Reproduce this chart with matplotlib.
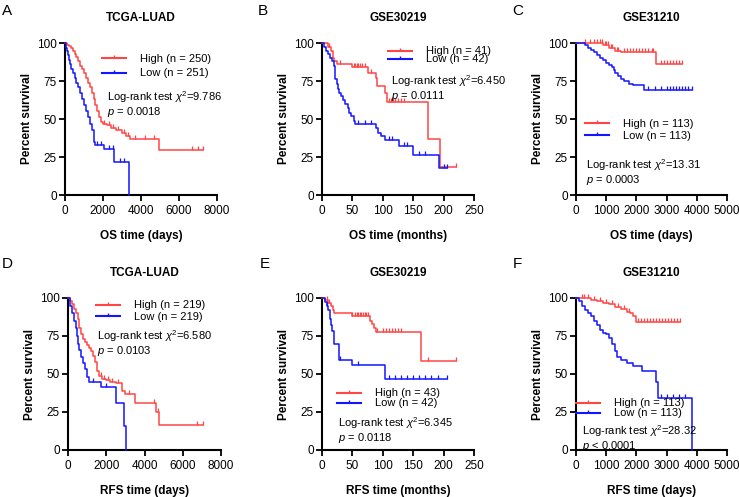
import numpy as np
import matplotlib
matplotlib.use('Agg')
import matplotlib.pyplot as plt
from matplotlib.lines import Line2D

plt.rcParams['font.family'] = 'Liberation Sans'
plt.rcParams['mathtext.fontset'] = 'custom'
plt.rcParams['mathtext.rm'] = 'Liberation Sans'
plt.rcParams['mathtext.it'] = 'Liberation Sans:italic'

red = '#FF4545'
blue = '#1414FF'

# ---- data: step times / survival (%), end of follow-up, censor times ----
# A: TCGA-LUAD OS (days)
a_hi_t = [0, 100, 200, 300, 400, 500, 600, 700, 800, 900, 1000, 1100, 1200, 1300, 1400,
          1500, 1600, 1700, 1800, 1900, 2000, 2200, 2400, 2700, 3000, 3200, 3400, 4950]
a_hi_s = [100, 99, 98, 97, 95, 93, 91, 88, 85, 83, 80, 77, 74, 71, 67,
          63, 59, 55, 51, 48, 47, 46, 44, 43, 41, 39, 37, 29.5]
a_hi_end = 7250
a_hi_cens = [2050, 2300, 2550, 2800, 3100, 3300, 3700, 4200, 4700, 6700, 7000, 7250]
a_lo_t = [0, 50, 100, 150, 200, 250, 300, 400, 500, 600, 700, 800, 900, 1000, 1100,
          1200, 1300, 1400, 1500, 1550, 1600, 2050, 2600, 3350]
a_lo_s = [100, 97, 95, 92, 89, 86, 83, 80, 77, 74, 71, 67, 63, 59, 55,
          51, 47, 43, 38, 35, 33, 30.5, 21.5, 0]
a_lo_end = 3350
a_lo_cens = [1700, 1900, 2300, 2500, 2900, 3100]

# B: GSE30219 OS (months)
b_hi_t = [0, 10, 15, 18, 20, 25, 49, 75, 88, 90, 103, 107, 175, 194]
b_hi_s = [100, 97.5, 95, 90, 88, 86.5, 84, 80, 77, 71.5, 67, 61, 37, 18.5]
b_hi_end = 221
b_hi_cens = [12, 30, 52, 55, 58, 60, 63, 66, 70, 80, 110, 113, 116, 120, 125, 130, 135, 221]
b_lo_t = [0, 3, 7, 10, 13, 17, 20, 21, 22, 24, 26, 28, 31, 35, 38, 42, 45, 48, 52, 55,
          88, 92, 97, 103, 127, 150, 192]
b_lo_s = [100, 97.5, 95, 92.7, 90, 88, 85, 80, 76, 73, 70, 67, 65, 62.5, 60, 57, 54, 52, 49, 46.5,
          44, 41, 38.5, 36, 32, 26.5, 17.5]
b_lo_end = 205
b_lo_cens = [60, 70, 80, 110, 115, 135, 140, 160, 170, 200, 205]

# C: GSE31210 OS (days)
c_hi_t = [0, 900, 1100, 1300, 1500, 2650]
c_hi_s = [100, 99, 97, 95, 94, 86]
c_hi_end = 3500
c_hi_cens = [300, 450, 600, 700, 800, 850, 950, 1000, 1050, 1150, 1200, 1350, 1400, 1600,
             1700, 1800, 1900, 2000, 2100, 2200, 2300, 2400, 2500, 2550, 2800, 2900, 3000,
             3100, 3200, 3300, 3400, 3500]
c_lo_t = [0, 300, 400, 500, 600, 700, 800, 900, 1000, 1100, 1200, 1250, 1300, 1400, 1500,
          1600, 1750, 1900, 2250]
c_lo_s = [100, 98.5, 97, 95.5, 94, 92, 90, 88.5, 87, 85.5, 84, 82, 80, 78, 76.5,
          75, 73, 72.5, 69]
c_lo_end = 3850
c_lo_cens = [2400, 2600, 2800, 3000, 3100, 3200, 3300, 3400, 3500, 3600, 3700, 3850]

# D: TCGA-LUAD RFS (days)
d_hi_t = [0, 100, 200, 300, 400, 500, 600, 700, 800, 900, 1000, 1100, 1200, 1300, 1400,
          1500, 1600, 1800, 2000, 2200, 2500, 2800, 3000, 3500, 4600, 4780]
d_hi_s = [100, 98, 96, 93, 90, 86, 80, 76, 73, 71, 69, 67, 65, 62, 58,
          52, 49, 47, 46, 45, 44, 39, 37, 31, 25, 16.5]
d_hi_end = 7050
d_hi_cens = [1700, 1900, 2100, 2300, 2600, 3200, 4500, 4700, 6750, 7050]
d_lo_t = [0, 100, 200, 300, 400, 450, 500, 600, 700, 800, 900, 1000, 1100, 1750, 2500, 2950, 3050]
d_lo_s = [100, 95, 90, 85, 80, 75, 70, 66, 61, 57, 53, 48, 45, 41.5, 31, 15.5, 0]
d_lo_end = 3050
d_lo_cens = [1300, 2000]

# E: GSE30219 RFS (months)
e_hi_t = [0, 5, 10, 15, 18, 20, 50, 79, 82, 85, 88, 163]
e_hi_s = [100, 99, 97, 95, 92, 90, 88, 85, 83, 80, 77.5, 58.5]
e_hi_end = 221
e_hi_cens = [8, 12, 50, 55, 57, 60, 62, 64, 67, 70, 73, 76, 90, 100, 105, 110, 115,
             120, 125, 130, 175, 221]
e_lo_t = [0, 5, 8, 10, 13, 15, 17, 20, 28, 49, 103]
e_lo_s = [100, 97.5, 95, 92, 86, 82, 78, 70, 59.5, 56, 47]
e_lo_end = 205
e_lo_cens = [8, 30, 60, 110, 120, 130, 140, 150, 160, 170, 180, 190, 205]

# F: GSE31210 RFS (days)
f_hi_t = [0, 500, 700, 900, 1100, 1300, 1500, 1700, 1800, 1900, 1980]
f_hi_s = [100, 99, 98, 97, 96, 94, 93, 91, 90, 88, 84]
f_hi_end = 3450
f_hi_cens = [200, 250, 400, 600, 800, 1000, 1200, 1400, 1600, 1750, 2050, 2150, 2250,
             2350, 2450, 2550, 2650, 2750, 2850, 2950, 3050, 3150, 3250, 3350, 3450]
f_lo_t = [0, 100, 200, 300, 400, 500, 600, 700, 800, 900, 1000, 1100, 1200, 1300, 1350,
          1500, 1700, 1900, 2200, 2650, 2700, 3850]
f_lo_s = [100, 98, 95, 92, 90, 88, 85, 82, 79, 77, 76, 74, 70, 65, 61,
          59, 57, 55, 52, 45, 34.5, 0]
f_lo_end = 3850
f_lo_cens = [2800, 3000, 3200, 3400, 3600]

panels = [
    dict(letter='A', title='TCGA-LUAD', xlabel='OS time (days)', xmax=8000, xstep=2000,
         hi=(a_hi_t, a_hi_s, a_hi_end, a_hi_cens), lo=(a_lo_t, a_lo_s, a_lo_end, a_lo_cens),
         n=('250', '251'), chi='9.786', p='= 0.0018'),
    dict(letter='B', title='GSE30219', xlabel='OS time (months)', xmax=250, xstep=50,
         hi=(b_hi_t, b_hi_s, b_hi_end, b_hi_cens), lo=(b_lo_t, b_lo_s, b_lo_end, b_lo_cens),
         n=('41', '42'), chi='6.450', p='= 0.0111'),
    dict(letter='C', title='GSE31210', xlabel='OS time (days)', xmax=5000, xstep=1000,
         hi=(c_hi_t, c_hi_s, c_hi_end, c_hi_cens), lo=(c_lo_t, c_lo_s, c_lo_end, c_lo_cens),
         n=('113', '113'), chi='13.31', p='= 0.0003'),
    dict(letter='D', title='TCGA-LUAD', xlabel='RFS time (days)', xmax=8000, xstep=2000,
         hi=(d_hi_t, d_hi_s, d_hi_end, d_hi_cens), lo=(d_lo_t, d_lo_s, d_lo_end, d_lo_cens),
         n=('219', '219'), chi='6.580', p='= 0.0103'),
    dict(letter='E', title='GSE30219', xlabel='RFS time (months)', xmax=250, xstep=50,
         hi=(e_hi_t, e_hi_s, e_hi_end, e_hi_cens), lo=(e_lo_t, e_lo_s, e_lo_end, e_lo_cens),
         n=('43', '42'), chi='6.345', p='= 0.0118'),
    dict(letter='F', title='GSE31210', xlabel='RFS time (days)', xmax=5000, xstep=1000,
         hi=(f_hi_t, f_hi_s, f_hi_end, f_hi_cens), lo=(f_lo_t, f_lo_s, f_lo_end, f_lo_cens),
         n=('113', '113'), chi='28.32', p='< 0.0001'),
]

W, H = 739, 497
fig = plt.figure(figsize=(W / 100, H / 100), dpi=100)

# layout in pixels: axes (left, top, right, bottom), legend (x, y_first, row gap),
# stats text (x, y), letter (x, y)
axes_px = [(65, 43, 217, 195), (322, 43, 474, 195), (576, 43, 727, 195),
           (68, 298, 221, 450), (322, 298, 474, 450), (576, 298, 727, 450)]
legend_px = [(102, 60, 18), (388, 53, 11), (585, 125, 15),
             (96, 307, 14), (337, 395, 13), (576, 405, 13)]
stats_px = [(107, 97), (391, 81), (586, 165), (97, 336), (338, 423), (582, 431)]
letter_px = [(2, 4), (258, 4), (512, 4), (2, 257), (260, 257), (513, 257)]

fs = 8


def draw_curve(ax, t, s, end, cens, color):
    tt = list(t) + [end]
    ss = list(s) + [s[-1]]
    ax.step(tt, ss, where='post', color=color, lw=1.1, clip_on=False, zorder=3)
    idx = np.searchsorted(t, cens, side='right') - 1
    ax.plot(cens, np.array(s)[idx], ls='none', marker=2, ms=2.8, mew=0.9,
            color=color, clip_on=False, zorder=3)


for i, p in enumerate(panels):
    l, t, r, b = axes_px[i]
    ax = fig.add_axes([l / W, 1 - b / H, (r - l) / W, (b - t) / H])
    draw_curve(ax, *p['hi'], red)
    draw_curve(ax, *p['lo'], blue)

    ax.set_xlim(0, p['xmax'])
    ax.set_ylim(0, 100)
    ax.set_xticks(np.arange(0, p['xmax'] + 1, p['xstep']))
    ax.set_yticks([0, 25, 50, 75, 100])
    for side in ['top', 'right']:
        ax.spines[side].set_visible(False)
    for side in ['left', 'bottom']:
        ax.spines[side].set_linewidth(1.5)
    ax.tick_params(direction='out', length=4.5, width=1.3, labelsize=8.5)
    ax.tick_params(axis='y', pad=1.5)
    ax.tick_params(axis='x', pad=3)
    ax.set_title(p['title'], fontsize=8.5, fontweight='bold', pad=16)
    ax.set_xlabel(p['xlabel'], fontsize=8.5, fontweight='bold', labelpad=9)
    ax.set_ylabel('Percent survival', fontsize=8.5, fontweight='bold', labelpad=3)

    lx, ly, gap = legend_px[i]
    handles = [Line2D([], [], color=red, lw=1.5, marker=2, ms=2.5),
               Line2D([], [], color=blue, lw=1.5, marker=2, ms=2.5)]
    labels = ['High (n = %s)' % p['n'][0], 'Low (n = %s)' % p['n'][1]]
    fpx = fs * 100 / 72
    ax.legend(handles, labels, loc='upper left',
              bbox_to_anchor=(lx / W, 1 - (ly - 6.5) / H), bbox_transform=fig.transFigure,
              frameon=False, fontsize=fs, handlelength=2.2, handletextpad=1.2,
              borderpad=0, borderaxespad=0, numpoints=1,
              labelspacing=(gap - 1.17 * fpx) / fpx)

    sx, sy = stats_px[i]
    fig.text(sx / W, 1 - sy / H, r'Log-rank test $\chi^2$=' + p['chi'], fontsize=fs,
             va='center', ha='left')
    fig.text(sx / W, 1 - (sy + 15) / H, r'$p$ ' + p['p'], fontsize=fs,
             va='center', ha='left')

    px_, py_ = letter_px[i]
    fig.text(px_ / W, 1 - py_ / H, p['letter'], fontsize=11, va='top', ha='left')

fig.savefig('out.png', dpi=100)
